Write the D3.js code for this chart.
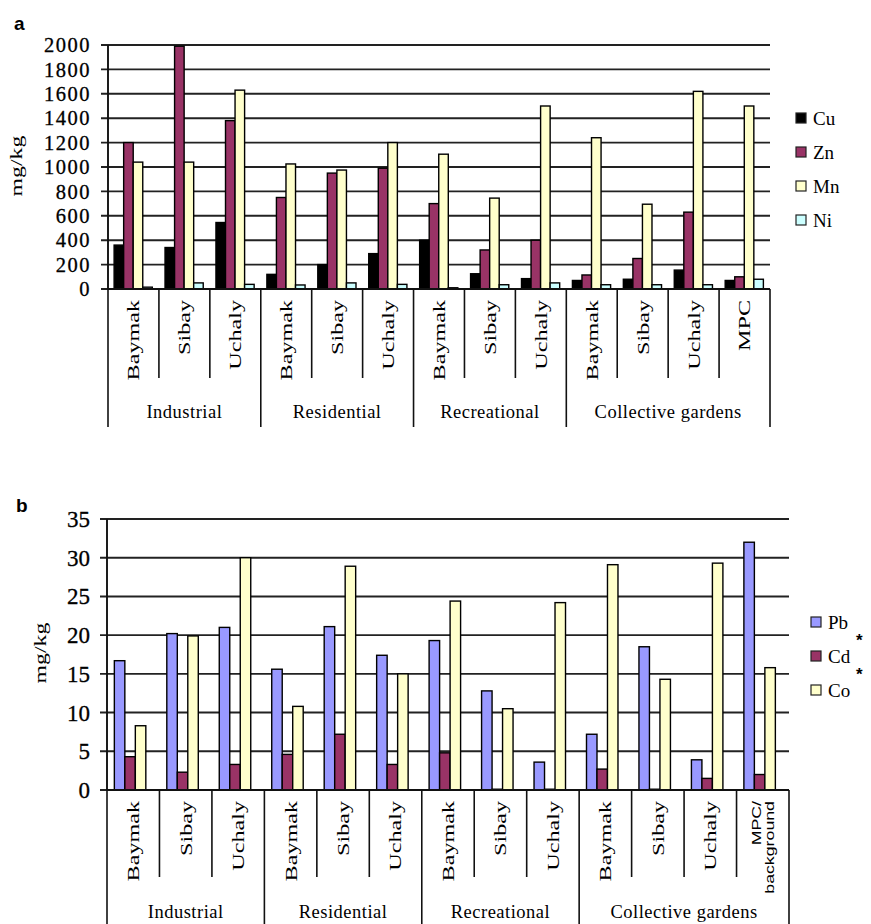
<!DOCTYPE html>
<html>
<head>
<meta charset="utf-8">
<script src="https://cdn.jsdelivr.net/npm/d3@7"></script>
<style>
  body { margin: 0; background: #fff; }
  text { fill: #000; }
</style>
</head>
<body>
<svg id="chart" width="871" height="924"></svg>
<script>
// Sampling sites along the category axis, grouped by land use
const siteLabels = ["Baymak", "Sibay", "Uchaly", "Baymak", "Sibay", "Uchaly",
                    "Baymak", "Sibay", "Uchaly", "Baymak", "Sibay", "Uchaly", "MPC"];
const siteLabelsB = ["Baymak", "Sibay", "Uchaly", "Baymak", "Sibay", "Uchaly",
                     "Baymak", "Sibay", "Uchaly", "Baymak", "Sibay", "Uchaly", "MPC/|background"];
const landUse = ["Industrial", "Residential", "Recreational", "Collective gardens"];
const landUseSize = [3, 3, 3, 4];

// Panel a: Cu, Zn, Mn, Ni (mg/kg)
const cu = [360, 340, 545, 120, 200, 290, 400, 125, 85, 70, 80, 155, 70];
const zn = [1200, 1990, 1380, 750, 950, 990, 700, 320, 400, 115, 250, 630, 100];
const mn = [1040, 1040, 1630, 1025, 975, 1200, 1105, 745, 1500, 1240, 695, 1620, 1500];
const ni = [15, 50, 38, 33, 50, 38, 10, 35, 50, 35, 35, 35, 80];
const ticksA = [0, 200, 400, 600, 800, 1000, 1200, 1400, 1600, 1800, 2000];

// Panel b: Pb, Cd*, Co* (mg/kg)
const pb = [16.7, 20.2, 21.0, 15.6, 21.1, 17.4, 19.3, 12.8, 3.6, 7.2, 18.5, 3.9, 32.0];
const cd = [4.3, 2.3, 3.3, 4.6, 7.2, 3.3, 4.8, 0.1, 0.1, 2.7, 0.1, 1.5, 2.0];
const co = [8.3, 19.9, 30.0, 10.8, 28.9, 15.0, 24.4, 10.5, 24.2, 29.1, 14.3, 29.3, 15.8];
const ticksB = [0, 5, 10, 15, 20, 25, 30, 35];

const svg = d3.select("#chart");
const serif = "'Liberation Serif', 'Times New Roman', serif";
const sans = "'Liberation Sans', Arial, sans-serif";

function drawPanel(cfg) {
  const g = svg.append("g");
  const idx = d3.range(cfg.labels.length);

  const x0 = d3.scaleBand().domain(idx).range([cfg.left, cfg.right]).padding(0);
  const x1 = d3.scaleBand().domain(cfg.series.map(s => s.name))
    .range([x0.bandwidth() * cfg.barSpan[0], x0.bandwidth() * cfg.barSpan[1]]).padding(0);
  const y = d3.scaleLinear().domain([0, cfg.max]).range([cfg.bottom, cfg.top]);

  // horizontal gridlines with left tick marks
  g.append("g").selectAll("line").data(cfg.ticks).join("line")
    .attr("x1", cfg.left - 7).attr("x2", cfg.right)
    .attr("y1", d => y(d)).attr("y2", d => y(d))
    .attr("stroke", "#222").attr("stroke-width", 1.9);

  // y axis line
  g.append("line").attr("x1", cfg.left).attr("x2", cfg.left)
    .attr("y1", cfg.top).attr("y2", cfg.bottom)
    .attr("stroke", "#111").attr("stroke-width", 1.9);

  // y tick labels
  g.append("g").selectAll("text").data(cfg.ticks).join("text")
    .attr("x", cfg.left - 17).attr("y", d => y(d)).attr("dy", "0.35em")
    .attr("text-anchor", "end")
    .style("font-family", serif).style("font-size", cfg.tickFont + "px")
    .style("letter-spacing", cfg.tickSpacing + "px")
    .style("stroke", "#000").style("stroke-width", 0.3)
    .text(d => d);

  // y axis title
  g.append("text")
    .attr("transform", `translate(${cfg.titleX},${cfg.titleY}) rotate(-90) scale(1.4,1)`)
    .attr("text-anchor", "middle")
    .style("font-family", serif).style("font-size", "17px")
    .text("mg/kg");

  // bars
  cfg.series.forEach(s => {
    g.append("g").selectAll("rect").data(s.values).join("rect")
      .attr("x", (d, i) => x0(i) + x1(s.name))
      .attr("width", x1.bandwidth())
      .attr("y", d => y(d))
      .attr("height", d => cfg.bottom - y(d))
      .attr("fill", s.color)
      .attr("stroke", "#000").attr("stroke-width", 1.4);
  });

  // category axis: baseline, slot dividers, group dividers
  g.append("line").attr("x1", cfg.left).attr("x2", cfg.right)
    .attr("y1", cfg.bottom).attr("y2", cfg.bottom)
    .attr("stroke", "#111").attr("stroke-width", 1.9);

  const groupStarts = [0];
  landUseSize.forEach((n, i) => groupStarts.push(groupStarts[i] + n));
  const boundaries = d3.range(cfg.labels.length + 1);
  g.append("g").selectAll("line").data(boundaries).join("line")
    .attr("x1", b => b < cfg.labels.length ? x0(b) : cfg.right)
    .attr("x2", b => b < cfg.labels.length ? x0(b) : cfg.right)
    .attr("y1", cfg.bottom)
    .attr("y2", b => groupStarts.includes(b) ? cfg.bottom + cfg.groupDrop : cfg.bottom + cfg.innerDrop)
    .attr("stroke", "#111").attr("stroke-width", 1.6);

  // rotated site labels
  g.append("g").selectAll("text").data(idx).join("text")
    .attr("transform", i => `translate(${x0(i) + x0.bandwidth() / 2},${cfg.bottom + 11}) rotate(-90) scale(1.42,1)`)
    .attr("text-anchor", "end")
    .style("font-family", serif).style("font-size", "17px")
    .each(function (i) {
      const parts = cfg.labels[i].split("|");
      const t = d3.select(this);
      if (parts.length === 1) {
        t.attr("dy", "0.35em").text(parts[0]);
      } else {
        t.style("font-family", sans).style("font-size", "12.5px");
        parts.forEach((p, k) => t.append("tspan").attr("x", 0)
          .attr("dy", k === 0 ? "-0.15em" : "1.05em").text(p));
      }
    });

  // land-use group labels
  g.append("g").selectAll("text").data(landUse).join("text")
    .attr("x", (d, k) => (x0(groupStarts[k]) + (groupStarts[k + 1] < cfg.labels.length ? x0(groupStarts[k + 1]) : cfg.right)) / 2)
    .attr("y", cfg.bottom + cfg.groupLabelDy)
    .attr("text-anchor", "middle")
    .style("font-family", serif).style("font-size", "18.5px")
    .style("letter-spacing", "0.5px")
    .text(d => d);

  // legend
  const lg = g.append("g");
  cfg.series.forEach((s, k) => {
    const cy = cfg.legend.y + k * cfg.legend.step;
    lg.append("rect").attr("x", cfg.legend.x).attr("y", cy - 5)
      .attr("width", 10).attr("height", 10)
      .attr("fill", s.color).attr("stroke", "#222").attr("stroke-width", 1.2);
    lg.append("text").attr("x", cfg.legend.x + 17).attr("y", cy).attr("dy", "0.35em")
      .style("font-family", serif).style("font-size", "19px")
      .text(s.name);
    if (s.star) {
      lg.append("text").attr("x", cfg.legend.x + 45).attr("y", cy - 10)
        .style("font-family", sans).style("font-size", "17px").style("font-weight", "bold")
        .text("*");
    }
  });

  // panel letter
  g.append("text").attr("x", cfg.letter.x).attr("y", cfg.letter.y)
    .style("font-family", sans).style("font-weight", "bold").style("font-size", "19px")
    .text(cfg.letter.t);
}

drawPanel({
  labels: siteLabels,
  left: 108, right: 770, top: 45, bottom: 289,
  max: 2000, ticks: ticksA, tickFont: 20.5, tickSpacing: 1.5,
  titleX: 22, titleY: 166,
  barSpan: [0.12, 0.87],
  innerDrop: 89, groupDrop: 138, groupLabelDy: 129,
  series: [
    { name: "Cu", color: "#000000", values: cu },
    { name: "Zn", color: "#993366", values: zn },
    { name: "Mn", color: "#FFFFCC", values: mn },
    { name: "Ni", color: "#CCFFFF", values: ni }
  ],
  legend: { x: 796, y: 118, step: 34 },
  letter: { x: 14, y: 30, t: "a" }
});

drawPanel({
  labels: siteLabelsB,
  left: 107, right: 789, top: 519, bottom: 790,
  max: 35, ticks: ticksB, tickFont: 23, tickSpacing: 0,
  titleX: 46, titleY: 653,
  barSpan: [0.14, 0.74],
  innerDrop: 87, groupDrop: 140, groupLabelDy: 128,
  series: [
    { name: "Pb", color: "#9999FF", values: pb },
    { name: "Cd", color: "#993366", values: cd, star: true },
    { name: "Co", color: "#FFFFCC", values: co, star: true }
  ],
  legend: { x: 811, y: 622, step: 34 },
  letter: { x: 16, y: 512, t: "b" }
});
</script>
</body>
</html>
